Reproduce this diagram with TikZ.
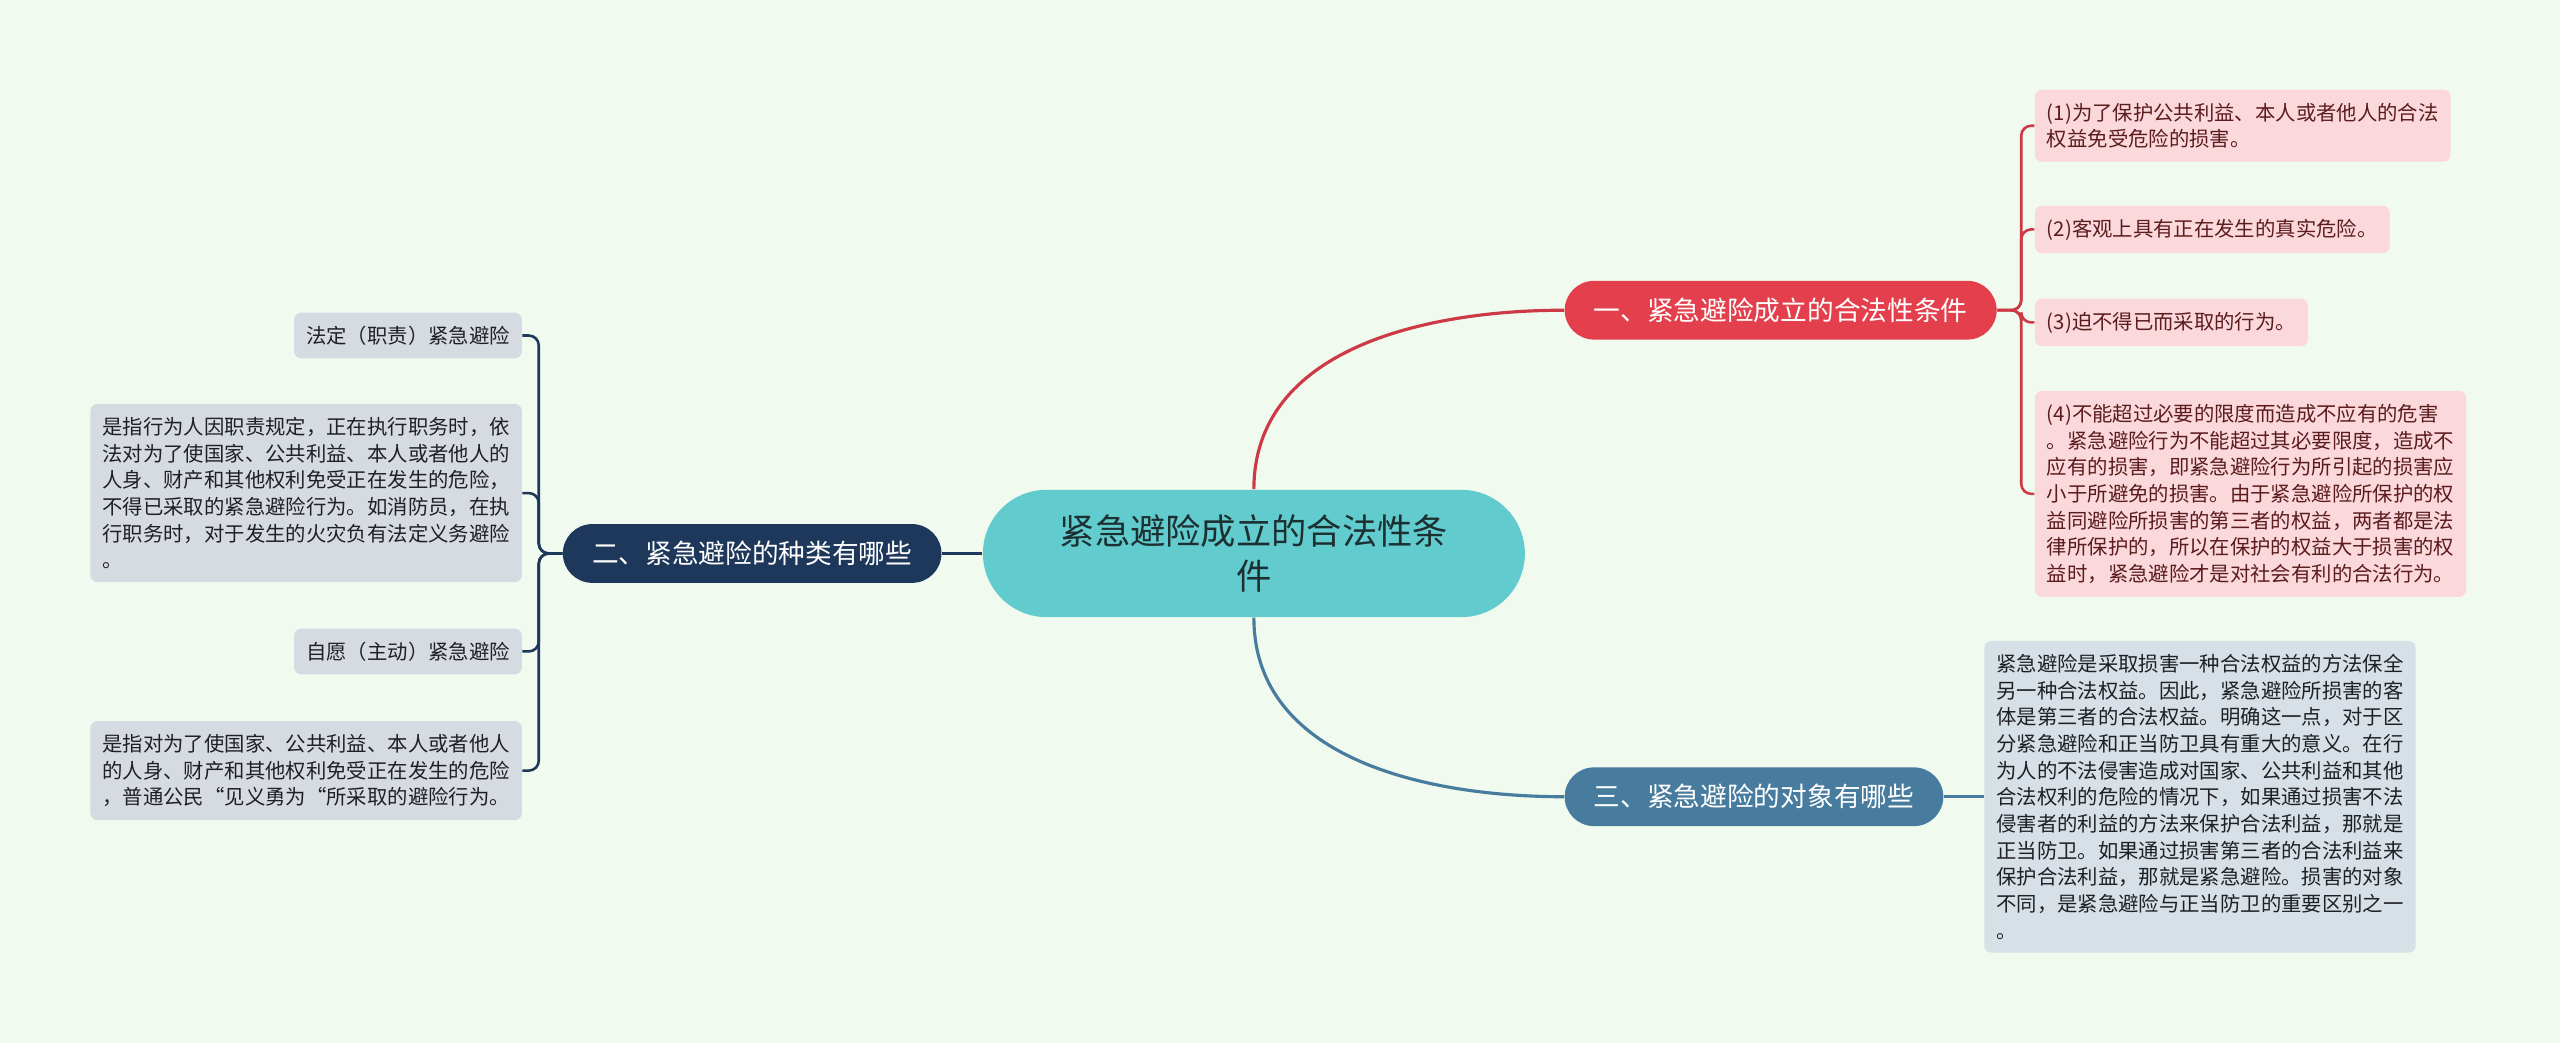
\documentclass[tikz,border=0pt]{standalone}
\usepackage{fontspec}
\setmainfont{Noto Sans CJK SC}
\usetikzlibrary{positioning}

\definecolor{bgc}{RGB}{240,250,239}
\definecolor{rootc}{RGB}{98,203,206}
\definecolor{roott}{RGB}{28,48,50}
\definecolor{redc}{RGB}{228,63,76}
\definecolor{navyc}{RGB}{30,56,92}
\definecolor{steelc}{RGB}{72,124,158}
\definecolor{pinkc}{RGB}{250,216,220}
\definecolor{pinkt}{RGB}{92,28,30}
\definecolor{greyc}{RGB}{214,219,226}
\definecolor{greyt}{RGB}{30,32,36}
\definecolor{bluec}{RGB}{215,224,231}

\begin{document}
\begin{tikzpicture}[
  x=0.02cm, y=0.02cm,
  root/.style={rectangle, rounded corners=0.78cm, fill=rootc, text=roott, minimum width=6.64cm, minimum height=1.56cm, align=center, font=\fontsize{12.3}{15.9}\selectfont},
  topic/.style={rectangle, rounded corners=0.36cm, minimum height=0.72cm, inner xsep=10.2pt, text=white, font=\fontsize{9.3}{11}\selectfont},
  leaf/.style={rectangle, rounded corners=2.5pt, align=left, inner xsep=4.2pt, inner ysep=4.6pt, font=\fontsize{7.1}{9.3}\selectfont},
  pinkleaf/.style={leaf, fill=pinkc, text=pinkt},
  greyleaf/.style={leaf, fill=greyc, text=greyt},
  blueleaf/.style={leaf, fill=bluec, text=greyt},
  link/.style={line width=1.1pt},
  twig/.style={line width=0.9pt, rounded corners=3.5pt}
]
  \fill[bgc] (0,0) rectangle (1568,-639);
  \useasboundingbox (0,0) rectangle (1568,-639);

  \node[root] (root) at (768,-339) {紧急避险成立的合法性条\\件};

  \node[topic, fill=redc, anchor=west] (t1) at (958,-190) {一、紧急避险成立的合法性条件};
  \node[topic, fill=navyc, anchor=east] (t2) at (577,-339) {二、紧急避险的种类有哪些};
  \node[topic, fill=steelc, anchor=west] (t3) at (958,-488) {三、紧急避险的对象有哪些};

  \node[pinkleaf, anchor=west] (p1) at (1246,-77) {(1)为了保护公共利益、本人或者他人的合法\\权益免受危险的损害。};
  \node[pinkleaf, anchor=west] (p2) at (1246,-140.5) {(2)客观上具有正在发生的真实危险。};
  \node[pinkleaf, anchor=west] (p3) at (1246,-197.5) {(3)迫不得已而采取的行为。};
  \node[pinkleaf, anchor=west] (p4) at (1246,-302.5) {(4)不能超过必要的限度而造成不应有的危害\\。紧急避险行为不能超过其必要限度，造成不\\应有的损害，即紧急避险行为所引起的损害应\\小于所避免的损害。由于紧急避险所保护的权\\益同避险所损害的第三者的权益，两者都是法\\律所保护的，所以在保护的权益大于损害的权\\益时，紧急避险才是对社会有利的合法行为。};

  \node[greyleaf, anchor=east] (g1) at (320,-205.5) {法定（职责）紧急避险};
  \node[greyleaf, anchor=east] (g2) at (320,-302) {是指行为人因职责规定，正在执行职务时，依\\法对为了使国家、公共利益、本人或者他人的\\人身、财产和其他权利免受正在发生的危险，\\不得已采取的紧急避险行为。如消防员，在执\\行职务时，对于发生的火灾负有法定义务避险\\。};
  \node[greyleaf, anchor=east] (g3) at (320,-399) {自愿（主动）紧急避险};
  \node[greyleaf, anchor=east] (g4) at (320,-472) {是指对为了使国家、公共利益、本人或者他人\\的人身、财产和其他权利免受正在发生的危险\\，普通公民“见义勇为“所采取的避险行为。};

  \node[blueleaf, anchor=west] (b1) at (1215,-488) {紧急避险是采取损害一种合法权益的方法保全\\另一种合法权益。因此，紧急避险所损害的客\\体是第三者的合法权益。明确这一点，对于区\\分紧急避险和正当防卫具有重大的意义。在行\\为人的不法侵害造成对国家、公共利益和其他\\合法权利的危险的情况下，如果通过损害不法\\侵害者的利益的方法来保护合法利益，那就是\\正当防卫。如果通过损害第三者的合法利益来\\保护合法利益，那就是紧急避险。损害的对象\\不同，是紧急避险与正当防卫的重要区别之一\\。};

  \draw[link, redc!90!black] (root.north) to[out=90, in=180] (t1.west);
  \draw[link, navyc] (root.west) -- (t2.east);
  \draw[link, steelc] (root.south) to[out=-90, in=180] (t3.west);

  \coordinate (j1) at (1238,-190);
  \coordinate (j2) at (330,-339);
  \foreach \n in {p1,p2,p3,p4}
    \draw[twig, redc!90!black] (t1.east) -- (j1) |- (\n.west);
  \foreach \n in {g1,g2,g3,g4}
    \draw[twig, navyc] (t2.west) -- (j2) |- (\n.east);
  \draw[twig, steelc] (t3.east) -- (b1.west);
\end{tikzpicture}
\end{document}
